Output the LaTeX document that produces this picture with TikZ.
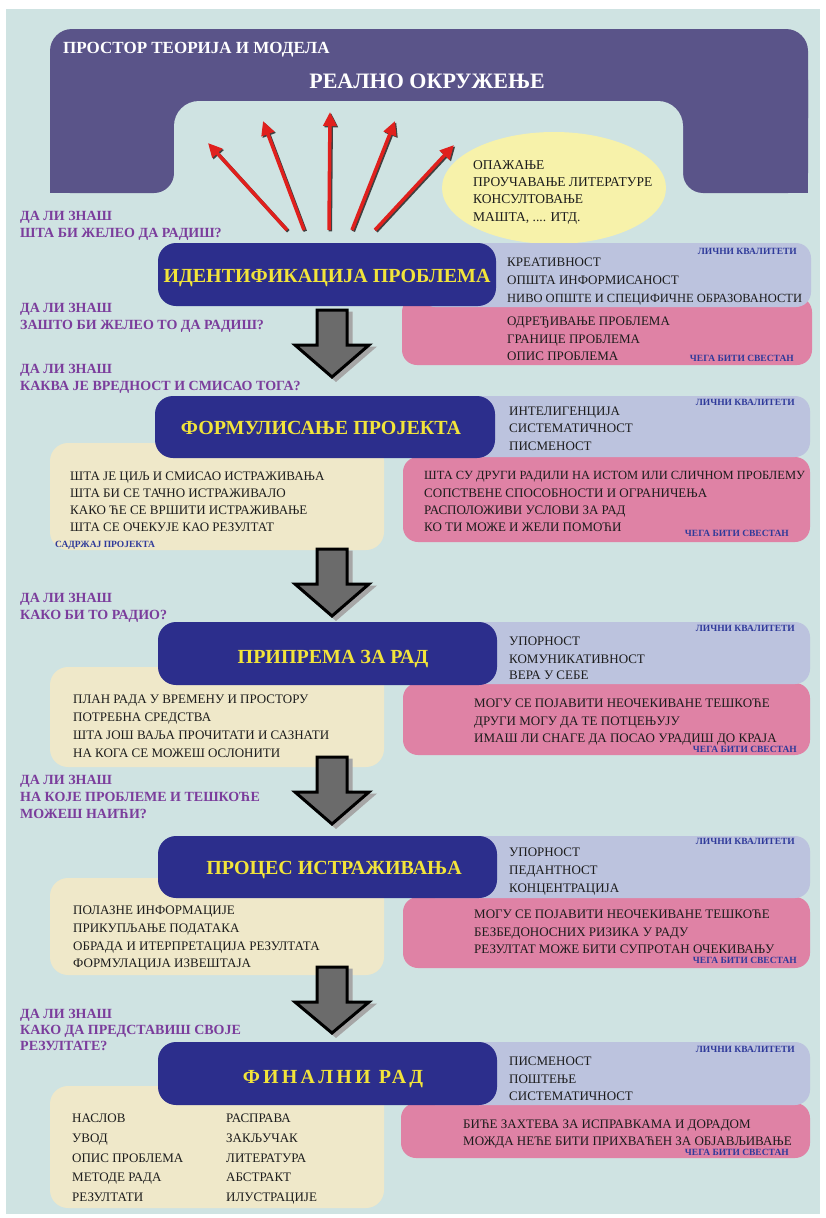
\documentclass[tikz,border=0pt]{standalone}
\usepackage{fontspec}
\setmainfont{Liberation Serif}
\usetikzlibrary{arrows.meta,calc}
\definecolor{cpage}{HTML}{CFE3E2}
\definecolor{ctop}{HTML}{5A5489}
\definecolor{cstage}{HTML}{2C2E8C}
\definecolor{ctitle}{HTML}{F2E43A}
\definecolor{cqual}{HTML}{BCC3DE}
\definecolor{cwarn}{HTML}{DF82A5}
\definecolor{cplan}{HTML}{EFE8C9}
\definecolor{coval}{HTML}{F7F2AA}
\definecolor{cask}{HTML}{7B3D9C}
\definecolor{ctag}{HTML}{2F3A9A}
\definecolor{cred}{HTML}{E0201D}
\definecolor{cink}{HTML}{1C1C1C}

\begin{document}
\begin{tikzpicture}[
    x=1pt, y=-1pt,
    item/.style={font=\fontsize{13}{15}\selectfont, text=cink, inner sep=0pt, anchor=base west},
    longitem/.style={item, font=\fontsize{12.5}{14}\selectfont},
    srcitem/.style={item, font=\fontsize{13.5}{15}\selectfont},
    ask/.style={font=\bfseries\fontsize{14}{16}\selectfont, text=cask, inner sep=0pt, anchor=base west},
    tag/.style={font=\bfseries\fontsize{9.5}{11}\selectfont, text=ctag, inner sep=0pt, anchor=base east},
    title/.style={font=\bfseries\fontsize{20}{24}\selectfont, text=ctitle, inner sep=0pt, anchor=base},
    stagebox/.style={fill=cstage, rounded corners=18pt},
    qualbox/.style={fill=cqual, rounded corners=15pt},
    warnbox/.style={fill=cwarn, rounded corners=15pt},
    planbox/.style={fill=cplan, rounded corners=18pt},
    fan/.style={draw=cred, line width=3.5pt, -{Triangle[length=14pt,width=13pt]}},
    fanshade/.style={draw=black!75, line width=3.5pt, -{Triangle[length=14pt,width=13pt]}},
    bigarrow/.style={fill=black!58, draw=black, line width=3pt, line join=miter},
    bigshade/.style={fill=black!35, draw=black!35, line width=3pt},
  ]
  \useasboundingbox (0,0) rectangle (825,1218);
  \fill[cpage] (6,9) rectangle (820,1214);

  % the real environment on top
  \fill[ctop, rounded corners=22pt] (50,29) rectangle (808,140);
  \fill[ctop, rounded corners=20pt] (50,60) rectangle (174,193);
  \fill[ctop, rounded corners=20pt] (683,60) rectangle (808,193);
  \fill[ctop] (50,150) rectangle (90,193);
  \fill[ctop] (768,150) rectangle (808,193);
  \fill[cpage, rounded corners=25pt] (174,101) rectangle (683,230);
  \node[font=\bfseries\fontsize{17}{20}\selectfont, text=white, inner sep=0pt, anchor=base west]
    (space) at (63,53) {ПРОСТОР ТЕОРИЈА И МОДЕЛА};
  \node[font=\bfseries\fontsize{22}{26}\selectfont, text=white, inner sep=0pt, anchor=base]
    (real) at (427,88) {РЕАЛНО ОКРУЖЕЊЕ};

  % fan of red arrows
  \coordinate (f1) at (287,230); \coordinate (t1) at (208,143);
  \coordinate (f2) at (304,230); \coordinate (t2) at (263,121);
  \coordinate (f3) at (329,230); \coordinate (t3) at (330,112);
  \coordinate (f4) at (352,230); \coordinate (t4) at (395,121);
  \coordinate (f5) at (375,230); \coordinate (t5) at (454,145);
  \draw[fanshade] ($(f1)+(1.3,1.3)$) -- ($(t1)+(1.3,1.3)$);
  \draw[fanshade] ($(f2)+(1.3,1.3)$) -- ($(t2)+(1.3,1.3)$);
  \draw[fanshade] ($(f3)+(1.3,1.3)$) -- ($(t3)+(1.3,1.3)$);
  \draw[fanshade] ($(f4)+(1.3,1.3)$) -- ($(t4)+(1.3,1.3)$);
  \draw[fanshade] ($(f5)+(1.3,1.3)$) -- ($(t5)+(1.3,1.3)$);
  \draw[fan] (f1) -- (t1);
  \draw[fan] (f2) -- (t2);
  \draw[fan] (f3) -- (t3);
  \draw[fan] (f4) -- (t4);
  \draw[fan] (f5) -- (t5);

  % sources
  \fill[coval] (554,188) ellipse [x radius=112, y radius=56];
  \node[srcitem] (src1) at (473,169) {ОПАЖАЊЕ};
  \node[srcitem] (src2) at (473,186) {ПРОУЧАВАЊЕ ЛИТЕРАТУРЕ};
  \node[srcitem] (src3) at (473,203) {КОНСУЛТОВАЊЕ};
  \node[srcitem] (src4) at (473,221) {МАШТА, .... ИТД.};

  % questions on the left
  \node[ask] (qa1) at (20,220) {ДА ЛИ ЗНАШ};
  \node[ask] (qb1) at (20,237) {ШТА БИ ЖЕЛЕО ДА РАДИШ?};
  \node[ask] (qa2) at (20,312) {ДА ЛИ ЗНАШ};
  \node[ask] (qb2) at (20,329) {ЗАШТО БИ ЖЕЛЕО ТО ДА РАДИШ?};
  \node[ask] (qa3) at (20,373) {ДА ЛИ ЗНАШ};
  \node[ask] (qb3) at (20,390) {КАКВА ЈЕ ВРЕДНОСТ И СМИСАО ТОГА?};
  \node[ask] (qa4) at (20,602) {ДА ЛИ ЗНАШ};
  \node[ask] (qb4) at (20,619) {КАКО БИ ТО РАДИО?};
  \node[ask] (qa5) at (20,784) {ДА ЛИ ЗНАШ};
  \node[ask] (qb5) at (20,801) {НА КОЈЕ ПРОБЛЕМЕ И ТЕШКОЋЕ};
  \node[ask] (qc5) at (20,818) {МОЖЕШ НАИЋИ?};
  \node[ask] (qa6) at (20,1018) {ДА ЛИ ЗНАШ};
  \node[ask] (qb6) at (20,1034) {КАКО ДА ПРЕДСТАВИШ СВОЈЕ};
  \node[ask] (qc6) at (20,1050) {РЕЗУЛТАТЕ?};

  % stage 1
  \fill[warnbox] (402,297) rectangle (812,365);
  \fill[qualbox] (420,243) rectangle (811,307);
  \fill[stagebox] (158,243) rectangle (496,306);
  \node[title] (s1) at (327,282) {ИДЕНТИФИКАЦИЈА ПРОБЛЕМА};
  \node[tag] (p1) at (797,254) {ЛИЧНИ КВАЛИТЕТИ};
  \node[item] (p1a) at (507,266) {КРЕАТИВНОСТ};
  \node[item] (p1b) at (507,284) {ОПШТА ИНФОРМИСАНОСТ};
  \node[longitem] (p1c) at (507,302) {НИВО ОПШТЕ И СПЕЦИФИЧНЕ ОБРАЗОВАНОСТИ};
  \node[item] (w1a) at (507,325) {ОДРЕЂИВАЊЕ ПРОБЛЕМА};
  \node[item] (w1b) at (507,343) {ГРАНИЦЕ ПРОБЛЕМА};
  \node[item] (w1c) at (507,360) {ОПИС ПРОБЛЕМА};
  \node[tag] (w1) at (794,361) {ЧЕГА БИТИ СВЕСТАН};
  \fill[bigshade, shift={(336,313)}] (-15,0) -- (15,0) -- (15,35) -- (37,35) -- (0,67) -- (-37,35) -- (-15,35) -- cycle;
  \filldraw[bigarrow, shift={(332,310)}] (-15,0) -- (15,0) -- (15,35) -- (37,35) -- (0,67) -- (-37,35) -- (-15,35) -- cycle;

  % stage 2
  \fill[planbox] (50,443) rectangle (384,550);
  \fill[warnbox] (403,457) rectangle (810,542);
  \fill[qualbox] (420,396) rectangle (810,457);
  \fill[stagebox] (155,396) rectangle (495,458);
  \node[title] (s2) at (321,434) {ФОРМУЛИСАЊЕ ПРОЈЕКТА};
  \node[tag] (p2) at (795,405) {ЛИЧНИ КВАЛИТЕТИ};
  \node[item] (p2a) at (509,415) {ИНТЕЛИГЕНЦИЈА};
  \node[item] (p2b) at (509,432) {СИСТЕМАТИЧНОСТ};
  \node[item] (p2c) at (509,450) {ПИСМЕНОСТ};
  \node[item] (c2a) at (70,480) {ШТА ЈЕ ЦИЉ И СМИСАО ИСТРАЖИВАЊА};
  \node[item] (c2b) at (70,497) {ШТА БИ СЕ ТАЧНО ИСТРАЖИВАЛО};
  \node[item] (c2c) at (70,514) {КАКО ЋЕ СЕ ВРШИТИ ИСТРАЖИВАЊЕ};
  \node[item] (c2d) at (70,531) {ШТА СЕ ОЧЕКУЈЕ КАО РЕЗУЛТАТ};
  \node[tag, anchor=base west] (c2) at (55,547) {САДРЖАЈ ПРОЈЕКТА};
  \node[longitem] (w2a) at (424,479) {ШТА СУ ДРУГИ РАДИЛИ НА ИСТОМ ИЛИ СЛИЧНОМ ПРОБЛЕМУ};
  \node[item] (w2b) at (424,497) {СОПСТВЕНЕ СПОСОБНОСТИ И ОГРАНИЧЕЊА};
  \node[item] (w2c) at (424,514) {РАСПОЛОЖИВИ УСЛОВИ ЗА РАД};
  \node[item] (w2d) at (424,531) {КО ТИ МОЖЕ И ЖЕЛИ ПОМОЋИ};
  \node[tag] (w2) at (789,536) {ЧЕГА БИТИ СВЕСТАН};
  \fill[bigshade, shift={(336,552)}] (-15,0) -- (15,0) -- (15,35) -- (37,35) -- (0,67) -- (-37,35) -- (-15,35) -- cycle;
  \filldraw[bigarrow, shift={(332,549)}] (-15,0) -- (15,0) -- (15,35) -- (37,35) -- (0,67) -- (-37,35) -- (-15,35) -- cycle;

  % stage 3
  \fill[planbox] (50,667) rectangle (384,767);
  \fill[warnbox] (403,683) rectangle (810,755);
  \fill[qualbox] (420,622) rectangle (810,684);
  \fill[stagebox] (158,622) rectangle (497,685);
  \node[title] (s3) at (333,663) {ПРИПРЕМА ЗА РАД};
  \node[tag] (p3) at (795,631) {ЛИЧНИ КВАЛИТЕТИ};
  \node[item] (p3a) at (509,645) {УПОРНОСТ};
  \node[item] (p3b) at (509,663) {КОМУНИКАТИВНОСТ};
  \node[item] (p3c) at (509,679) {ВЕРА У СЕБЕ};
  \node[item] (c3a) at (73,703) {ПЛАН РАДА У ВРЕМЕНУ И ПРОСТОРУ};
  \node[item] (c3b) at (73,721) {ПОТРЕБНА СРЕДСТВА};
  \node[item] (c3c) at (73,739) {ШТА ЈОШ ВАЉА ПРОЧИТАТИ И САЗНАТИ};
  \node[item] (c3d) at (73,757) {НА КОГА СЕ МОЖЕШ ОСЛОНИТИ};
  \node[item] (w3a) at (474,707) {МОГУ СЕ ПОЈАВИТИ НЕОЧЕКИВАНЕ ТЕШКОЋЕ};
  \node[item] (w3b) at (474,725) {ДРУГИ МОГУ ДА ТЕ ПОТЦЕЊУЈУ};
  \node[item] (w3c) at (474,742) {ИМАШ ЛИ СНАГЕ ДА ПОСАО УРАДИШ ДО КРАЈА};
  \node[tag] (w3) at (797,752) {ЧЕГА БИТИ СВЕСТАН};
  \fill[bigshade, shift={(336,760)}] (-15,0) -- (15,0) -- (15,35) -- (37,35) -- (0,67) -- (-37,35) -- (-15,35) -- cycle;
  \filldraw[bigarrow, shift={(332,757)}] (-15,0) -- (15,0) -- (15,35) -- (37,35) -- (0,67) -- (-37,35) -- (-15,35) -- cycle;

  % stage 4
  \fill[planbox] (50,878) rectangle (384,975);
  \fill[warnbox] (403,897) rectangle (810,968);
  \fill[qualbox] (420,836) rectangle (810,898);
  \fill[stagebox] (158,836) rectangle (497,898);
  \node[title] (s4) at (334,874) {ПРОЦЕС ИСТРАЖИВАЊА};
  \node[tag] (p4) at (795,844) {ЛИЧНИ КВАЛИТЕТИ};
  \node[item] (p4a) at (509,856) {УПОРНОСТ};
  \node[item] (p4b) at (509,874) {ПЕДАНТНОСТ};
  \node[item] (p4c) at (509,892) {КОНЦЕНТРАЦИЈА};
  \node[item] (c4a) at (73,914) {ПОЛАЗНЕ ИНФОРМАЦИЈЕ};
  \node[item] (c4b) at (73,932) {ПРИКУПЉАЊЕ ПОДАТАКА};
  \node[item] (c4c) at (73,950) {ОБРАДА И ИТЕРПРЕТАЦИЈА РЕЗУЛТАТА};
  \node[item] (c4d) at (73,967) {ФОРМУЛАЦИЈА ИЗВЕШТАЈА};
  \node[item] (w4a) at (474,918) {МОГУ СЕ ПОЈАВИТИ НЕОЧЕКИВАНЕ ТЕШКОЋЕ};
  \node[item] (w4b) at (474,936) {БЕЗБЕДОНОСНИХ РИЗИКА У РАДУ};
  \node[item] (w4c) at (474,953) {РЕЗУЛТАТ МОЖЕ БИТИ СУПРОТАН ОЧЕКИВАЊУ};
  \node[tag] (w4) at (797,963) {ЧЕГА БИТИ СВЕСТАН};
  \fill[bigshade, shift={(336,970)}] (-15,0) -- (15,0) -- (15,35) -- (37,35) -- (0,66) -- (-37,35) -- (-15,35) -- cycle;
  \filldraw[bigarrow, shift={(332,967)}] (-15,0) -- (15,0) -- (15,35) -- (37,35) -- (0,66) -- (-37,35) -- (-15,35) -- cycle;

  % stage 5
  \fill[planbox] (50,1086) rectangle (384,1208);
  \fill[warnbox] (401,1103) rectangle (810,1158);
  \fill[qualbox] (420,1042) rectangle (810,1105);
  \fill[stagebox] (158,1042) rectangle (497,1105);
  \node[title, font=\bfseries\fontsize{20}{24}\selectfont\addfontfeature{LetterSpace=16}] (s5) at (333,1083) {ФИНАЛНИ РАД};
  \node[tag] (p5) at (795,1052) {ЛИЧНИ КВАЛИТЕТИ};
  \node[item] (p5a) at (509,1065) {ПИСМЕНОСТ};
  \node[item] (p5b) at (509,1083) {ПОШТЕЊЕ};
  \node[item] (p5c) at (509,1100) {СИСТЕМАТИЧНОСТ};
  \node[item] (c5a) at (72,1122) {НАСЛОВ};
  \node[item] (c5b) at (72,1142) {УВОД};
  \node[item] (c5c) at (72,1162) {ОПИС ПРОБЛЕМА};
  \node[item] (c5d) at (72,1181) {МЕТОДЕ РАДА};
  \node[item] (c5e) at (72,1201) {РЕЗУЛТАТИ};
  \node[item] (d5a) at (226,1122) {РАСПРАВА};
  \node[item] (d5b) at (226,1142) {ЗАКЉУЧАК};
  \node[item] (d5c) at (226,1162) {ЛИТЕРАТУРА};
  \node[item] (d5d) at (226,1181) {АБСТРАКТ};
  \node[item] (d5e) at (226,1201) {ИЛУСТРАЦИЈЕ};
  \node[item] (w5a) at (463,1128) {БИЋЕ ЗАХТЕВА ЗА ИСПРАВКАМА И ДОРАДОМ};
  \node[item] (w5b) at (463,1145) {МОЖДА НЕЋЕ БИТИ ПРИХВАЋЕН ЗА ОБЈАВЉИВАЊЕ};
  \node[tag] (w5) at (789,1155) {ЧЕГА БИТИ СВЕСТАН};
\end{tikzpicture}
\end{document}
